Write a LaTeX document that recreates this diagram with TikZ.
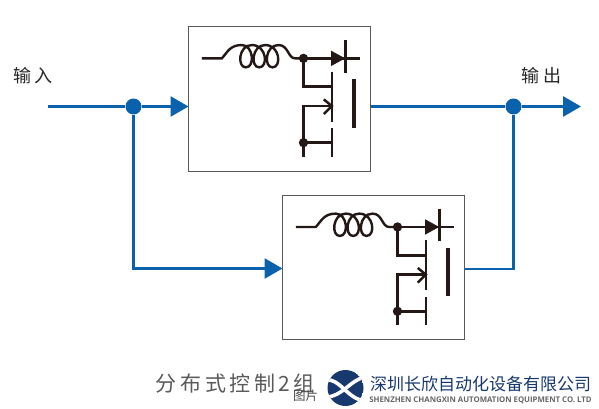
\documentclass[tikz,border=0pt]{standalone}
\usepackage{fontspec}
\setmainfont{Noto Sans CJK SC}
\newfontfamily\latinfont{Open Sans}
\usetikzlibrary{arrows.meta,calc}
\definecolor{flowblue}{HTML}{0A62AC}
\definecolor{circ}{HTML}{231815}
\definecolor{navy}{HTML}{17396E}
\tikzset{
  x=1pt,y=-1pt,
  unitbox/.style={draw=black!65,line width=0.9pt,fill=white,minimum width=182pt,minimum height=145pt,inner sep=0,outer sep=0,anchor=north west},
  flow/.style={draw=flowblue,line width=2.8pt},
  flowarrow/.style={flow,-{Triangle[length=18pt,width=20pt,fill=flowblue]}},
  junction/.style={circle,fill=flowblue,minimum size=16pt,inner sep=0},
  wire/.style={draw=circ,line width=2.5pt},
  coil/.style={draw=circ,line width=2.4pt},
  cdot/.style={circle,fill=circ,minimum size=9pt,inner sep=0},
  label/.style={text=black!85,font=\fontsize{18}{18}\selectfont,inner sep=0},
  pics/converter/.style={code={
    \begin{scope}[x=0.3333pt,y=-0.3333pt]
    \draw[coil] (40,95) -- (100,95) .. controls (118,75) and (125,55) .. (160,55)
       .. controls (195,55) and (200,122) .. (172,122) .. controls (145,122) and (150,55) .. (190,55)
       .. controls (235,55) and (240,122) .. (212,122) .. controls (185,122) and (190,55) .. (230,55)
       .. controls (275,55) and (280,122) .. (252,122) .. controls (225,122) and (230,55) .. (270,55)
       .. controls (300,55) and (298,95) .. (320,95) -- (345,95);
    \draw[wire] (345,95) -- (515,95);
    \fill[circ] (428,72) -- (470,95) -- (428,118) -- cycle;
    \draw[wire] (471,40) -- (471,138);
    \fill[circ] (345,95) circle (14);
    \draw[wire] (345,95) -- (345,180) -- (430,180);
    \draw[wire] (430,135) -- (430,285);
    \draw[wire] (430,305) -- (430,390);
    \draw[wire] (430,238) -- (345,238) -- (345,390);
    \draw[wire] (406,218) -- (430,238) -- (406,262);
    \draw[wire] (345,348) -- (430,348);
    \fill[circ] (345,348) circle (14);
    \draw[draw=circ,line width=3.4pt] (497,158) -- (497,303);
    \end{scope}
  }}
}
\begin{document}
\begin{tikzpicture}
\useasboundingbox (0,0) rectangle (599,409);
\node[unitbox] (boxA) at (188.5,26.7) {};
\node[unitbox,minimum height=144pt] (boxB) at (282.5,195.3) {};
\pic at (boxA.north west) {converter};
\pic at (boxB.north west) {converter};
\coordinate (inp) at (48,106.5);
\coordinate (outp) at (581,106.5);
\node[junction] (jin) at (133.5,106.5) {};
\node[junction] (jout) at (513.5,106.5) {};
\coordinate (corner) at (133.5,268.5);
\coordinate (cornerB) at (513.5,269);
\draw[flow] (inp) -- (jin);
\draw[flowarrow] (jin) -- (boxA.west |- jin);
\draw[flow] (boxA.east |- jout) -- (jout);
\draw[flowarrow] (jout) -- (outp);
\draw[flowarrow] (jin) -- (corner) -- (boxB.west |- corner);
\draw[flow] (boxB.east |- cornerB) -- (cornerB) -- (jout);
\node[label] (tin) at (33,75.5) {输\hspace{4pt}入};
\node[label] (tout) at (541.5,75.5) {输\hspace{4pt}出};
\node[text=black!65,font=\fontsize{21}{21}\selectfont,inner sep=0] (cap) at (235,384) {分\hspace{3.8pt}布\hspace{3.8pt}式\hspace{3.8pt}控\hspace{3.8pt}制\hspace{3pt}2\hspace{3pt}组};
\node[text=black!70,font=\fontsize{12.5}{12.5}\selectfont,inner sep=0] (pic) at (305.5,396) {图片};
% logo
\begin{scope}
\clip (345.5,388) circle (18);
\fill[navy] (345.5,388) circle (18);
\draw[white,line width=3.6pt] (326,380) .. controls (340,378) and (347,399) .. (365,401);
\draw[white,line width=3.6pt] (326,397) .. controls (342,397) and (350,380) .. (365,377);
\end{scope}
\node[text=navy,font=\fontsize{17}{17}\selectfont,inner sep=0] (co) at (480.5,384) {深圳长欣自动化设备有限公司};
\node[text=black!60,font=\latinfont\bfseries\fontsize{7.8}{8}\selectfont,inner sep=0] (en) at (480.5,400) {SHENZHEN CHANGXIN AUTOMATION EQUIPMENT CO. LTD};
\end{tikzpicture}
\end{document}
